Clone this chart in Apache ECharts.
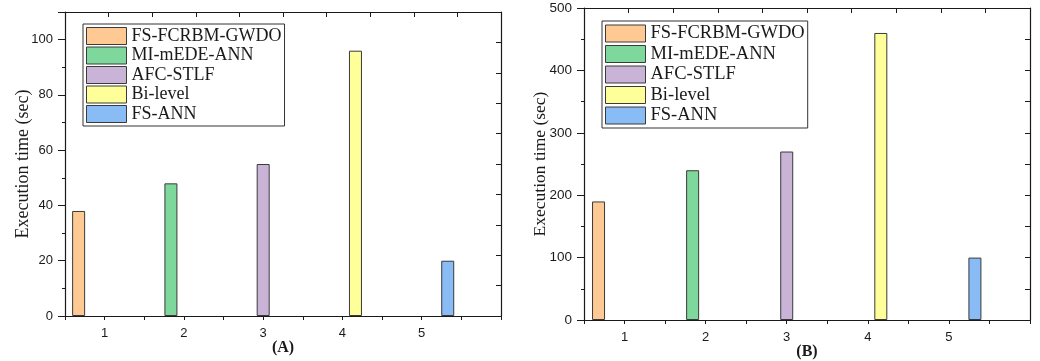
<!DOCTYPE html>
<html>
<head>
<meta charset="utf-8">
<script src="https://cdn.jsdelivr.net/npm/echarts@6/dist/echarts.min.js"></script>
<style>
  html, body { margin: 0; padding: 0; background: #fff; }
  #chart { width: 1040px; height: 361px; }
</style>
</head>
<body>
<div id="chart"></div>
<script>
// Execution time of each method, panel (A) and panel (B)
const methods = ['FS-FCRBM-GWDO', 'MI-mEDE-ANN', 'AFC-STLF', 'Bi-level', 'FS-ANN'];
const categories = [1, 2, 3, 4, 5];
const timesA = [38, 48, 55, 96, 20];
const timesB = [190, 240, 270, 460, 100];
const panelLabels = ['(A)', '(B)'];
const yTitle = 'Execution time (sec)';
const colors = ['#FFC994', '#7FD89B', '#C9B4D8', '#FFFF99', '#89BBF4'];

const serif = '"Liberation Serif", "Times New Roman", serif';
const sans = '"Liberation Sans", Arial, sans-serif';
const ink = '#1a1a1a';

const grids = [
  { left: 65, right: 539, top: 12, bottom: 45, outerBoundsMode: 'none', containLabel: false },
  { left: 584, right: 10, top: 8, bottom: 41, outerBoundsMode: 'none', containLabel: false }
];
const yRanges = [
  { max: 110, interval: 20 },
  { max: 500, interval: 100 }
];

const xAxes = [];
const yAxes = [];
const series = [];
const legends = [];

[timesA, timesB].forEach((times, g) => {
  // bottom axis (value scale so the bars sit in groups of five)
  xAxes.push({
    type: 'value', gridIndex: g, position: 'bottom',
    min: 0.5, max: 6, interval: 0.5,
    name: panelLabels[g], nameLocation: 'middle', nameGap: 24, nameMoveOverlap: false,
    nameTextStyle: { fontFamily: serif, fontWeight: 'bold', fontSize: 16, color: ink },
    axisLine: { show: true, lineStyle: { color: ink, width: 1.2 } },
    axisTick: { show: true, inside: false, length: 4, lineStyle: { color: ink } },
    axisLabel: {
      fontFamily: sans, fontSize: 13, color: ink, margin: 11,
      formatter: v => (categories.indexOf(v) >= 0 ? String(v) : '')
    },
    splitLine: { show: false }
  });
  // top frame axis with inward ticks
  xAxes.push({
    type: 'value', gridIndex: g, position: 'top',
    min: 0, max: 10, interval: 1,
    axisLine: { show: true, onZero: false, lineStyle: { color: ink, width: 1.2 } },
    axisTick: { show: true, inside: true, length: 5, lineStyle: { color: ink } },
    axisLabel: { show: false },
    splitLine: { show: false }
  });
  yAxes.push({
    type: 'value', gridIndex: g, position: 'left',
    min: 0, max: yRanges[g].max, interval: yRanges[g].interval,
    name: yTitle, nameLocation: 'middle', nameGap: g === 0 ? 33 : 35, nameMoveOverlap: false,
    nameTextStyle: { fontFamily: serif, fontSize: g === 0 ? 18 : 17.5, color: ink },
    axisLine: { show: true, lineStyle: { color: ink, width: 1.2 } },
    axisTick: { show: true, inside: false, length: 7, lineStyle: { color: ink } },
    minorTick: { show: true, splitNumber: 2, length: 3, lineStyle: { color: ink } },
    axisLabel: {
      fontFamily: sans, fontSize: g === 0 ? 13 : 13.5, color: ink, margin: 12,
      formatter: v => (v % yRanges[g].interval === 0 ? String(v) : '')
    },
    splitLine: { show: false }
  });
  // right frame axis with inward ticks
  yAxes.push({
    type: 'value', gridIndex: g, position: 'right',
    min: 0, max: 10, interval: 1,
    axisLine: { show: true, onZero: false, lineStyle: { color: ink, width: 1.2 } },
    axisTick: { show: true, inside: true, length: 5, lineStyle: { color: ink } },
    axisLabel: { show: false },
    splitLine: { show: false }
  });

  methods.forEach((name, i) => {
    series.push({
      type: 'bar', name,
      xAxisIndex: g * 2, yAxisIndex: g * 2,
      barWidth: 13, barGap: '0%',
      itemStyle: { color: colors[i], borderColor: '#3a3a3a', borderWidth: 1 },
      data: [[categories[i], times[i]]],
      animation: false
    });
  });

  legends.push({
    orient: 'vertical',
    left: g === 0 ? 83 : 602,
    top: g === 0 ? 24 : 21,
    data: methods,
    selectedMode: false,
    icon: 'rect',
    itemWidth: 40, itemHeight: 17, itemGap: 1.5,
    padding: [3, 3, 3, 3],
    borderColor: '#333', borderWidth: 1,
    itemStyle: { borderColor: '#3a3a3a', borderWidth: 1 },
    textStyle: { fontFamily: serif, fontSize: g === 0 ? 18 : 18.5, color: ink, lineHeight: 17 }
  });
});

const chart = echarts.init(document.getElementById('chart'), null, { renderer: 'canvas' });
chart.setOption({
  animation: false,
  color: colors,
  grid: grids,
  xAxis: xAxes,
  yAxis: yAxes,
  legend: legends,
  series
});
</script>
</body>
</html>
